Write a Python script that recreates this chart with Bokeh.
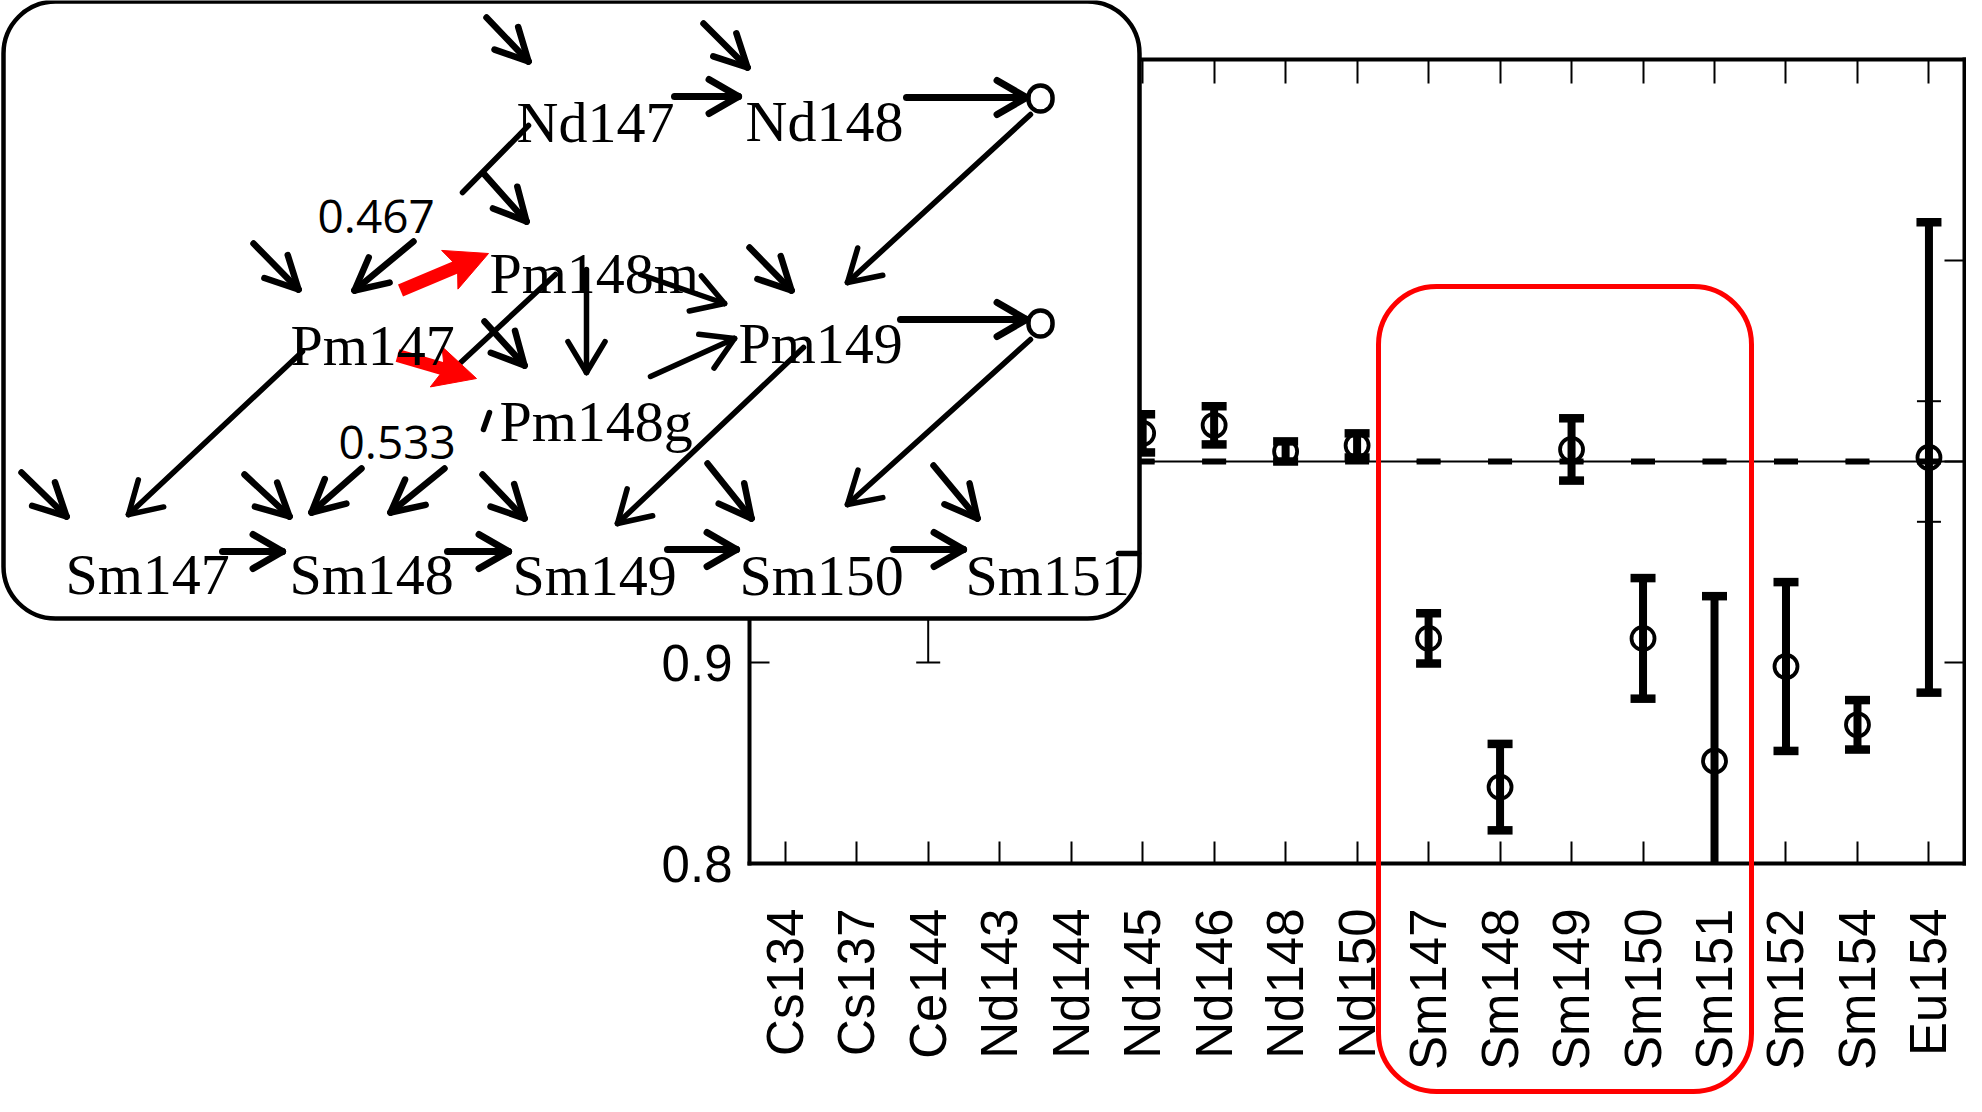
import math
import numpy as np
from bokeh.plotting import figure
from bokeh.models import (ColumnDataSource, Range1d, FixedTicker, LinearAxis,
                          BoxAnnotation, PolyAnnotation, Label, Arrow)
from bokeh.embed import file_html
from bokeh.resources import INLINE

nan = float("nan")

# ---------------- data ----------------
nuclides = ["Cs134", "Cs137", "Ce144", "Nd143", "Nd144", "Nd145", "Nd146", "Nd148", "Nd150",
            "Sm147", "Sm148", "Sm149", "Sm150", "Sm151", "Sm152", "Sm154", "Eu154"]
# C/E ratio (thick error bars); first five hidden behind the inset
ratio = [nan, nan, nan, nan, nan, 1.014, 1.018, 1.005, 1.008,
         0.912, 0.838, 1.006, 0.912, 0.851, 0.898, 0.869, 1.002]
ratio_err = [nan, nan, nan, nan, nan, 0.0095, 0.0095, 0.005, 0.006,
             0.0125, 0.0215, 0.0155, 0.030, 0.082, 0.042, 0.0123, 0.117]
# reference (=1) with thin error bars
ref_value = [1.0] * 17
ref_err = [0.0, 0.0, 0.10, 0.0, 0.0, 0.0, 0.0, 0.0, 0.0,
           0.0, 0.0, 0.0, 0.0, 0.0, 0.0, 0.0, 0.03]
y_ticks = [0.8, 0.9, 1.0, 1.1, 1.2]
Y0, Y1 = 0.8, 1.2

# ---------------- layout ----------------
W, H = 1966, 1096
OFF = 8                         # page margin
PX_L, PX_R = 749.0, 1964.2      # canvas x of plot box left/right
PY_B, PY_T = 863.0, 59.0        # canvas y of plot box bottom/top
n = len(nuclides)
X0, X1 = 0.0, float(n)
ppx = (PX_R - PX_L) / (X1 - X0)
ppy = (PY_B - PY_T) / (Y1 - Y0)
x_range = Range1d(X0 - PX_L / ppx, X1 + (W - PX_R) / ppx)
y_range = Range1d(Y0 - (H - PY_B) / ppy, Y1 + PY_T / ppy)


def sx(x):       # reference pixel -> frame screen units
    return x - OFF


def sy(y):
    return H - (y - OFF)


xpos = np.arange(n) + 0.5
r = np.array(ratio)
re = np.array(ratio_err)
lo, hi = r - re, r + re
lo_vis = np.clip(lo, Y0, Y1)                       # bars stop at the plot border
lo_cap = np.where(lo >= Y0, lo, nan)
rv = np.array(ref_value)
rve = np.array(ref_err)
src = ColumnDataSource(dict(x=xpos, ratio=r, lo=lo_vis, lo_cap=lo_cap, hi=hi,
                            ref=rv, ref_lo=rv - rve, ref_hi=rv + rve))

p = figure(width=W, height=H, x_range=x_range, y_range=y_range,
           output_backend="svg", toolbar_location=None, min_border=0,
           x_axis_location=None, y_axis_location=None)
p.outline_line_color = None
p.xgrid.visible = False
p.ygrid.visible = False
p.background_fill_color = "white"
p.border_fill_color = "white"

AX_FONT = "Liberation Sans"
x_ticker = FixedTicker(ticks=list(xpos))
x_names = {float(v): name for v, name in zip(xpos, nuclides)}


def make_axis(loc, ticker, bounds, tick_in, labels):
    ax = LinearAxis(ticker=ticker, fixed_location=loc, bounds=bounds)
    ax.axis_line_width = 4
    ax.axis_line_color = "black"
    ax.axis_line_cap = "square"
    ax.major_tick_in = tick_in
    ax.major_tick_out = 0
    ax.major_tick_line_width = 2
    ax.major_tick_line_color = "black"
    ax.minor_tick_line_color = None
    if labels:
        ax.major_label_text_font = AX_FONT
        ax.major_label_text_font_size = "51px"
        ax.major_label_text_color = "black"
    else:
        ax.major_label_text_color = None
    return ax


xb = make_axis(Y0, x_ticker, (X0, X1), 22, True)
xb.major_label_overrides = x_names
xb.major_label_orientation = math.pi / 2
xb.major_label_standoff = 45
p.add_layout(xb, "below")

xt = make_axis(Y1, x_ticker, (X0, X1), 24, False)
p.add_layout(xt, "above")

yl = make_axis(X0, FixedTicker(ticks=y_ticks), (Y0, Y1), 20, True)
yl.major_label_standoff = 17
p.add_layout(yl, "left")

yr = make_axis(X1, FixedTicker(ticks=y_ticks), (Y0, Y1), 20, False)
p.add_layout(yr, "right")

# unity line across the plot box
p.segment(x0=[X0], y0=[1.0], x1=[X1], y1=[1.0], line_width=2, line_color="black")

# reference series: thin bars + thick dashes at 1
p.segment(x0="x", y0="ref_lo", x1="x", y1="ref_hi", source=src, line_width=2, line_color="black")
p.scatter(x="x", y="ref_lo", source=src, marker="dash", size=24, line_width=2, line_color="black")
p.scatter(x="x", y="ref_hi", source=src, marker="dash", size=24, line_width=2, line_color="black")
p.scatter(x="x", y="ref", source=src, marker="dash", size=24, line_width=6, line_color="black")

# C/E series: thick bars, thick caps, hollow circles
p.segment(x0="x", y0="lo", x1="x", y1="hi", source=src, line_width=8, line_color="black")
p.scatter(x="x", y="lo_cap", source=src, marker="dash", size=25, line_width=8.5, line_color="black")
p.scatter(x="x", y="hi", source=src, marker="dash", size=25, line_width=8.5, line_color="black")
p.scatter(x="x", y="ratio", source=src, marker="circle", size=23, line_width=3.8,
          line_color="black", fill_color=None)

# ---------------- inset: decay / capture chain ----------------
SCR = dict(left_units="screen", right_units="screen", top_units="screen", bottom_units="screen")


def box(x0, y0, x1, y1, **kw):
    return BoxAnnotation(left=sx(x0), right=sx(x1), top=sy(y0), bottom=sy(y1), **SCR, **kw)


p.add_layout(box(11, 9, 1147, 626, fill_color="white", fill_alpha=1.0, line_color="black",
                 line_alpha=1.0, line_width=4.5, border_radius=52))


def lines(segs, lw, color="black"):
    d = dict(x0=[sx(s[0]) for s in segs], y0=[sy(s[1]) for s in segs],
             x1=[sx(s[2]) for s in segs], y1=[sy(s[3]) for s in segs])
    return Arrow(x_start="x0", y_start="y0", x_end="x1", y_end="y1",
                 start_units="screen", end_units="screen", source=ColumnDataSource(d),
                 line_width=lw, line_color=color, line_cap="round", end=None)


def head_arms(segs, length, angle_deg):
    out = []
    a = math.radians(angle_deg)
    for x0, y0, x1, y1 in segs:
        d = math.hypot(x0 - x1, y0 - y1)
        bx, by = (x0 - x1) / d, (y0 - y1) / d
        for s in (1, -1):
            rx = bx * math.cos(a) - s * by * math.sin(a)
            ry = s * bx * math.sin(a) + by * math.cos(a)
            out.append((x1, y1, x1 + length * rx, y1 + length * ry))
    return out


small = [(494, 25, 536, 69), (711, 31, 755, 75), (492, 182, 534, 229), (261, 251, 306, 297),
         (421, 249, 362, 298), (757, 255, 799, 298), (492, 329, 532, 373), (29, 480, 74, 524),
         (252, 482, 297, 524), (369, 476, 319, 520), (452, 476, 398, 520), (490, 482, 532, 526),
         (715, 471, 759, 526), (941, 473, 985, 526)]
longs = [(310, 359, 136, 522), (1038, 122, 855, 290), (1038, 347, 855, 512), (811, 355, 625, 531),
         (648, 282, 732, 311), (658, 384, 742, 346), (594, 277, 594, 380)]
horiz = [(682, 104, 746, 104), (914, 105, 1034, 105), (908, 327, 1034, 327),
         (230, 559, 290, 559), (455, 559, 516, 559), (675, 557, 744, 557), (901, 557, 971, 557)]
plain = [(536, 133, 470, 200), (563, 282, 465, 373), (1126, 561, 1146, 561), (497, 420, 491, 437)]
red = [(408, 298, 496, 261), (405, 363, 484, 386)]

p.add_layout(lines(plain, 5.5))
p.add_layout(lines(small + head_arms(small, 36, 27), 6.5))
p.add_layout(lines(longs + head_arms(longs, 36, 31), 5.5))
p.add_layout(lines(horiz + head_arms(horiz, 34, 30), 7))

# red arrows: thick shaft + filled head
RED_L, RED_W = 42, 21
red_shafts = []
for x0, y0, x1, y1 in red:
    d = math.hypot(x1 - x0, y1 - y0)
    ux, uy = (x1 - x0) / d, (y1 - y0) / d
    nx, ny = -uy, ux
    red_shafts.append((x0, y0, x1 - 0.6 * RED_L * ux, y1 - 0.6 * RED_L * uy))
    bx, by = x1 - RED_L * ux, y1 - RED_L * uy
    mx, my = x1 - 0.8 * RED_L * ux, y1 - 0.8 * RED_L * uy
    pts = [(x1, y1), (bx + RED_W * nx, by + RED_W * ny), (mx, my), (bx - RED_W * nx, by - RED_W * ny)]
    p.add_layout(PolyAnnotation(xs=[sx(q[0]) for q in pts], ys=[sy(q[1]) for q in pts],
                                xs_units="screen", ys_units="screen", fill_color="red",
                                fill_alpha=1.0, line_color="red", line_alpha=1.0, line_width=1))
p.add_layout(Arrow(x_start="x0", y_start="y0", x_end="x1", y_end="y1",
                   start_units="screen", end_units="screen",
                   source=ColumnDataSource(dict(x0=[sx(s[0]) for s in red_shafts],
                                                y0=[sy(s[1]) for s in red_shafts],
                                                x1=[sx(s[2]) for s in red_shafts],
                                                y1=[sy(s[3]) for s in red_shafts])),
                   line_width=13, line_color="red", end=None))

for cx, cy in [(1048, 106), (1048, 331)]:
    p.add_layout(box(cx - 12, cy - 13, cx + 12, cy + 13, fill_color="white", fill_alpha=1.0,
                     line_color="black", line_alpha=1.0, line_width=4.5, border_radius=12))

chain_labels = [("Nd147", 524, 130), ("Nd148", 753, 129), ("Pm148m", 497, 281), ("Pm147", 298, 353),
                ("Pm149", 746, 351), ("Pm148g", 507, 429), ("Sm147", 73, 582), ("Sm148", 297, 582),
                ("Sm149", 520, 583), ("Sm150", 747, 583), ("Sm151", 973, 583)]
for t, x, y in chain_labels:
    p.add_layout(Label(x=sx(x), y=sy(y), x_units="screen", y_units="screen", text=t,
                       text_font="Liberation Serif", text_font_size="58px", text_color="black",
                       text_align="left", text_baseline="alphabetic"))

for t, x, y in [("0.467", 325, 224), ("0.533", 346, 450)]:
    p.add_layout(Label(x=sx(x), y=sy(y), x_units="screen", y_units="screen", text=t,
                       text_font="Open Sans", text_font_size="46px", text_color="black",
                       text_align="left", text_baseline="alphabetic"))

# red highlight box around Sm147-Sm151
p.add_layout(box(1386, 294, 1759, 1099, fill_color=None, fill_alpha=0, line_color="red",
                 line_alpha=1.0, line_width=5, border_radius=58))

open("out.html", "w").write(file_html(p, INLINE))
